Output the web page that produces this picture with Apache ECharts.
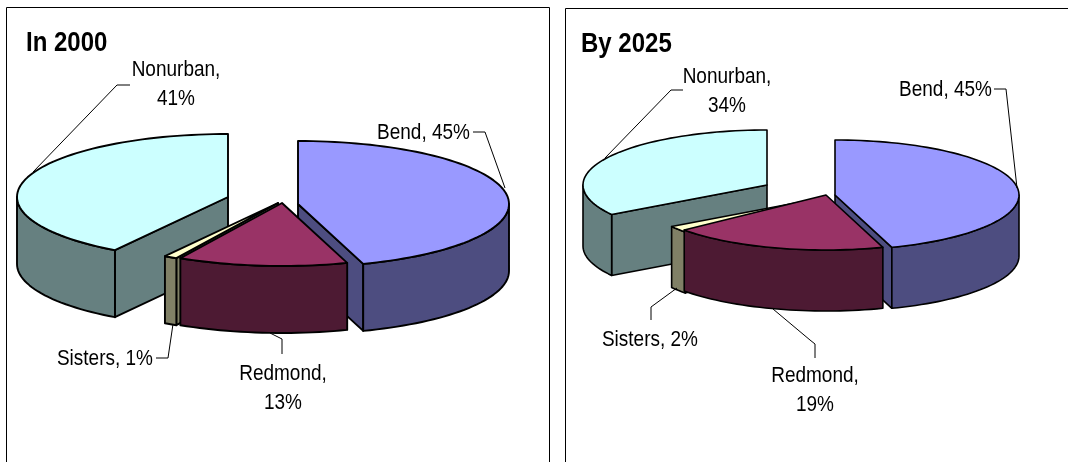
<!DOCTYPE html>
<html>
<head>
<meta charset="utf-8">
<style>html,body{margin:0;padding:0;background:#fff}#chart{width:1068px;height:462px}</style>
<script src="https://cdn.jsdelivr.net/npm/echarts@6/dist/echarts.min.js"></script>
</head>
<body>
<div id="chart"></div>
<script>
// Population share by area, two dates
const categories = ['Bend', 'Redmond', 'Sisters', 'Nonurban'];
const values2000 = [45, 13, 1, 41];
const values2025 = [45, 19, 2, 34];
const panelTitles = ['In 2000', 'By 2025'];

const topColors = ['#9999FF', '#993366', '#FFFFCC', '#CCFFFF'];
const sideColors = ['#4D4D80', '#4D1A33', '#808066', '#668080'];
// Back slices are painted first so that the front ones overlap them
const paintOrder = [3, 0, 2, 1];
const FONT = '"Liberation Sans", Arial, sans-serif';

// Pie geometry per panel: centre, ellipse radii, extrusion depth, slice explosion,
// and where each label and its leader line sit.
const panels = [
  {
    values: values2000, title: panelTitles[0], titleAt: [26, 43], outline: 1.9,
    cx: 263, cy: 200, rx: 211, ry: 63, depth: 67,
    explode: [[35, 4], [19, 3], [15, 3], [-35, -3]],
    labelAt: [[470, 133, 'right'], [283, 374, 'center'], [153, 359, 'right'], [176, 70, 'center']],
    leaders: [
      [[473, 132], [485, 132], [505, 188]],
      [[282, 354], [282, 339], [270, 333]],
      [[156, 358], [168, 358], [173, 324]],
      [[130, 85], [117, 85], [33, 172]]
    ]
  },
  {
    values: values2025, title: panelTitles[1], titleAt: [581, 44], outline: 1.6,
    cx: 801, cy: 190, rx: 184, ry: 55, depth: 61,
    explode: [[34, 5], [25, 5], [26, 7], [-34, -5]],
    labelAt: [[992, 90, 'right'], [815, 376, 'center'], [698, 340, 'right'], [727, 77, 'center']],
    leaders: [
      [[994, 89], [1006, 89], [1017, 188]],
      [[815, 358], [815, 344], [810, 340], [773, 309]],
      [[651, 320], [651, 307], [677, 288]],
      [[683, 90], [671, 90], [605, 158]]
    ]
  }
];

const rad = d => d * Math.PI / 180;

function rimPoint(p, hub, deg, drop) {
  return [hub[0] + p.rx * Math.sin(rad(deg)), hub[1] - p.ry * Math.cos(rad(deg)) + drop];
}

function arc(p, hub, from, to, drop) {
  const pts = [];
  const n = Math.max(2, Math.ceil(Math.abs(to - from) / 2));
  for (let i = 0; i <= n; i++) pts.push(rimPoint(p, hub, from + (to - from) * i / n, drop));
  return pts;
}

function face(p, points, fill, z2) {
  return {
    type: 'polygon', shape: { points },
    style: { fill, stroke: '#000', lineWidth: p.outline, lineJoin: 'round' },
    z2
  };
}

function labelText(str, x, y, align, font, scaleY) {
  return {
    type: 'text', x, y, scaleY, z2: 100,
    style: { text: str, x: 0, y: 0, align, verticalAlign: 'middle', font, fill: '#000' }
  };
}

function slicePieces(p, idx, value, z) {
  const total = p.values.reduce((a, b) => a + b, 0);
  const before = p.values.slice(0, idx).reduce((a, b) => a + b, 0);
  const a0 = before / total * 360;
  const a1 = (before + value) / total * 360;
  const hub = [p.cx + p.explode[idx][0], p.cy + p.explode[idx][1]];
  const low = [hub[0], hub[1] + p.depth];
  const out = [];

  // Cut faces that turn towards the viewer
  if (a0 > 180 && a0 < 360) {
    out.push(face(p, [hub, rimPoint(p, hub, a0, 0), rimPoint(p, hub, a0, p.depth), low], sideColors[idx], z));
  }
  if (a1 > 0 && a1 < 180) {
    out.push(face(p, [hub, rimPoint(p, hub, a1, 0), rimPoint(p, hub, a1, p.depth), low], sideColors[idx], z));
  }
  // Outer wall: only the front half of the rim shows
  const w0 = Math.max(a0, 90), w1 = Math.min(a1, 270);
  if (w1 > w0) {
    out.push(face(p, arc(p, hub, w0, w1, 0).concat(arc(p, hub, w1, w0, p.depth)), sideColors[idx], z + 1));
  }
  // Top face
  out.push(face(p, [hub].concat(arc(p, hub, a0, a1, 0)), topColors[idx], z + 2));
  return out;
}

function sliceLabel(p, idx, value) {
  const [x, y, align] = p.labelAt[idx];
  const font = '19px ' + FONT;
  const name = categories[idx];
  const out = [];
  if (align === 'center') {
    out.push(labelText(name + ',', x, y, 'center', font, 1.15));
    out.push(labelText(value + '%', x, y + 29, 'center', font, 1.15));
  } else {
    out.push(labelText(name + ', ' + value + '%', x, y, align, font, 1.15));
  }
  out.push({
    type: 'polyline', shape: { points: p.leaders[idx] },
    style: { fill: null, stroke: '#000', lineWidth: 1 }, z2: 90
  });
  return out;
}

function panelSeries(p) {
  return {
    type: 'custom',
    coordinateSystem: 'none',
    silent: true,
    clip: false,
    data: paintOrder.map(i => [p.values[i], i]),
    renderItem(params, api) {
      const value = api.value(0);
      const idx = api.value(1);
      const z = paintOrder.indexOf(idx) * 3 + 1;
      const children = slicePieces(p, idx, value, z).concat(sliceLabel(p, idx, value));
      if (params.dataIndex === 0) {
        children.push(labelText(p.title, p.titleAt[0], p.titleAt[1], 'left', 'bold 24px ' + FONT, 1.15));
      }
      return { type: 'group', children };
    }
  };
}

const chart = echarts.init(document.getElementById('chart'), null, { renderer: 'canvas' });
chart.setOption({
  animation: false,
  backgroundColor: '#fff',
  graphic: [
    { type: 'polyline', shape: { points: [[6.5, 470], [6.5, 7.5], [549.5, 7.5], [549.5, 470]] },
      style: { fill: null, stroke: '#000', lineWidth: 1 } },
    { type: 'polyline', shape: { points: [[565.5, 470], [565.5, 8.5], [1075, 8.5]] },
      style: { fill: null, stroke: '#000', lineWidth: 1 } }
  ],
  series: panels.map(panelSeries)
});
</script>
</body>
</html>
